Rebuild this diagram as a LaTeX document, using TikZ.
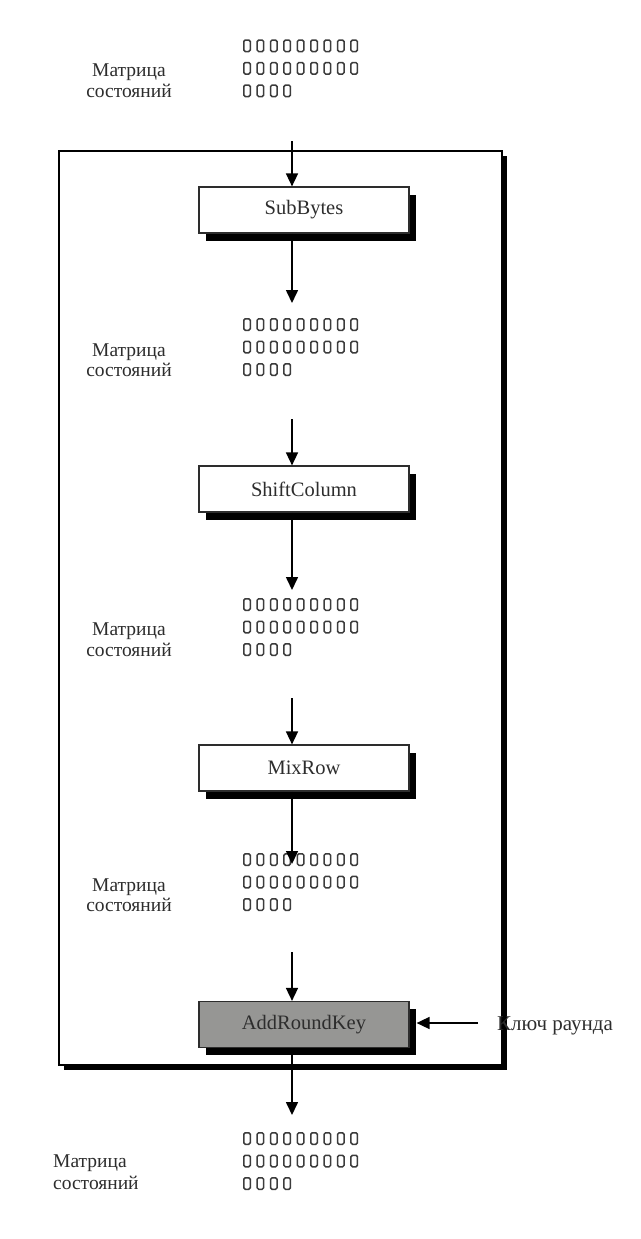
\documentclass[tikz,border=0pt]{standalone}
\usepackage{fontspec}
\setmainfont{Liberation Serif}
\usetikzlibrary{arrows.meta,shadows}
\definecolor{ink}{RGB}{45,45,45}
\definecolor{keyfill}{RGB}{150,150,148}
\definecolor{sqc}{RGB}{60,60,60}
\tikzset{
  procbox/.style={draw=ink, line width=1.2pt, fill=white, minimum width=210pt,
    minimum height=46pt, inner sep=0pt, font=\fontsize{20.5}{24}\selectfont, text=ink,
    drop shadow={shadow xshift=7pt, shadow yshift=-7.5pt, opacity=1, fill=black}},
  keybox/.style={procbox, fill=keyfill},
  framebox/.style={draw=black, line width=1.3pt, fill=white, inner sep=0pt,
    drop shadow={shadow xshift=4.5pt, shadow yshift=-4.5pt, opacity=1, fill=black}},
  lbl/.style={font=\fontsize{19.5}{22}\selectfont, text=ink, inner sep=0pt},
  arr/.style={-{Triangle[length=13pt,width=12pt]}, line width=1.6pt, draw=black},
  sq/.style={draw=sqc, line width=1.5pt, rounded corners=1.5pt},
  statemat/.pic={
    \foreach \c in {0,...,8}{\foreach \r in {0,1}{
      \draw[sq] (\c*13.4+0.75, \r*22.5+0.75) rectangle ++(6.5,11.5);}}
    \foreach \c in {0,...,3}{
      \draw[sq] (\c*13.4+0.75, 45.75) rectangle ++(6.5,11.5);}
  }
}
\begin{document}
\begin{tikzpicture}[x=1pt,y=-1pt]
\useasboundingbox (0,0) rectangle (640,1239);
\fill[white] (0,0) rectangle (640,1239);

% outer frame
\node[framebox, minimum width=443pt, minimum height=914pt] (frame) at (280.5,608) {};

% state matrices
\pic at (243,39.3) {statemat};
\pic at (243,318) {statemat};
\pic at (243,598) {statemat};
\pic at (243,853) {statemat};
\pic at (243,1132) {statemat};

% labels
\node[lbl, anchor=base] (l1a) at (129,77) {Матрица};
\node[lbl, anchor=base] (l1b) at (129,97) {состояний};
\node[lbl, anchor=base] (l2a) at (129,356) {Матрица};
\node[lbl, anchor=base] (l2b) at (129,376) {состояний};
\node[lbl, anchor=base] (l3a) at (129,635) {Матрица};
\node[lbl, anchor=base] (l3b) at (129,656) {состояний};
\node[lbl, anchor=base] (l4a) at (129,891) {Матрица};
\node[lbl, anchor=base] (l4b) at (129,911) {состояний};
\node[lbl, anchor=base west] (l5a) at (53,1167) {Матрица};
\node[lbl, anchor=base west] (l5b) at (53,1189) {состояний};

% process boxes
\node[procbox] (sb) at (304,210) {SubBytes};
\node[procbox] (sc) at (304,489) {ShiftColumn};
\node[procbox] (mr) at (304,768) {MixRow};
\node[keybox] (ark) at (304,1024.5) {AddRoundKey};

% key label
\node[lbl, font=\fontsize{21}{24}\selectfont, anchor=base west] (key) at (497,1030) {Ключ раунда};

% free ends
\coordinate (a1) at (292,141);
\coordinate (a2) at (292,303);
\coordinate (a3) at (292,419);
\coordinate (a4) at (292,590);
\coordinate (a5) at (292,698);
\coordinate (a6) at (292,864);
\coordinate (a7) at (292,952);
\coordinate (a8) at (292,1115);
\coordinate (ka) at (478,1023);

% connectors
\draw[arr] (a1) -- (a1 |- sb.north);
\draw[arr] (a1 |- sb.south) -- (a2);
\draw[arr] (a3) -- (a3 |- sc.north);
\draw[arr] (a3 |- sc.south) -- (a4);
\draw[arr] (a5) -- (a5 |- mr.north);
\draw[arr] (a5 |- mr.south) -- (a6);
\draw[arr] (a7) -- (a7 |- ark.north);
\draw[arr] (a7 |- ark.south) -- (a8);
\draw[arr] (ka) -- ([xshift=7pt]ark.east |- ka);
\end{tikzpicture}
\end{document}
